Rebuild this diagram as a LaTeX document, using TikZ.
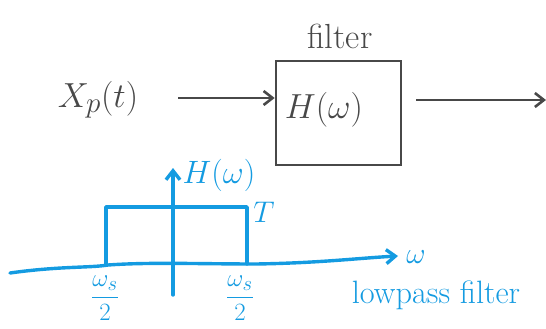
\documentclass[tikz,border=0pt]{standalone}
\usepackage{graphicx}
\usetikzlibrary{arrows.meta}
\definecolor{pen}{RGB}{72,72,72}
\definecolor{ink}{RGB}{20,155,225}
\newcommand{\bigmath}[1]{\scalebox{1.4}{$#1$}}
\begin{document}
\begin{tikzpicture}[x=1pt,y=-1pt,
  graypen/.style={draw=pen,line width=2.6pt},
  bluepen/.style={draw=ink,line width=3.4pt,line cap=round,line join=round},
  tip/.style={-{Straight Barb[length=9pt,width=14pt]}},
  graytxt/.style={text=pen,font=\fontsize{24.88}{27}\selectfont},
  bluetxt/.style={text=ink,font=\fontsize{24.88}{27}\selectfont}]
\useasboundingbox (0,0) rectangle (546,329);

% block diagram
\node[graytxt] (xin) at (98,100) {\bigmath{X_p(t)}};
\node[graypen,minimum width=125pt,minimum height=104pt,inner sep=0pt] (filt) at (338.5,113) {};
\node[graytxt] (hw) at (324,110) {\bigmath{H(\omega)}};
\node[graytxt] (flab) at (340,36) {\scalebox{1.4}{filter}};
\coordinate (out) at (546,100);
\coordinate (ina) at (178,98);
\draw[graypen,tip] (ina) -- (filt.west |- ina);
\draw[graypen,tip] (filt.east |- out) ++(14,0) coordinate (outa) -- (out);

% frequency response of the filter
\coordinate (wl) at (10,273);
\coordinate (wr) at (398,256);
\coordinate (vb) at (173,295);
\coordinate (vt) at (173,168);
\draw[bluepen,tip] (wl) .. controls (60,266) and (90,268) .. (108,265)
  .. controls (150,262) and (200,264) .. (256,264)
  .. controls (320,263) and (360,258) .. (wr);
\draw[bluepen,tip] (vb) -- (vt);
\coordinate (pl) at (106,265);
\coordinate (pr) at (247,264);
\draw[bluepen] (pl) -- (106,207) -- (247,207) -- (pr);
\node[bluetxt] (wlab) at (416,257) {\scalebox{1.2}{$\omega$}};
\node[bluetxt] (hlab) at (219,175) {\scalebox{1.3}{$H(\omega)$}};
\node[bluetxt] (tlab) at (264,212) {\scalebox{1.2}{$T$}};
\node[bluetxt] (fl) at (105,298) {$\displaystyle\frac{\omega_s}{2}$};
\node[bluetxt] (fr) at (240,298) {$\displaystyle\frac{\omega_s}{2}$};
\node[bluetxt] (lp) at (436,295) {\scalebox{1.3}{lowpass filter}};
\end{tikzpicture}
\end{document}
